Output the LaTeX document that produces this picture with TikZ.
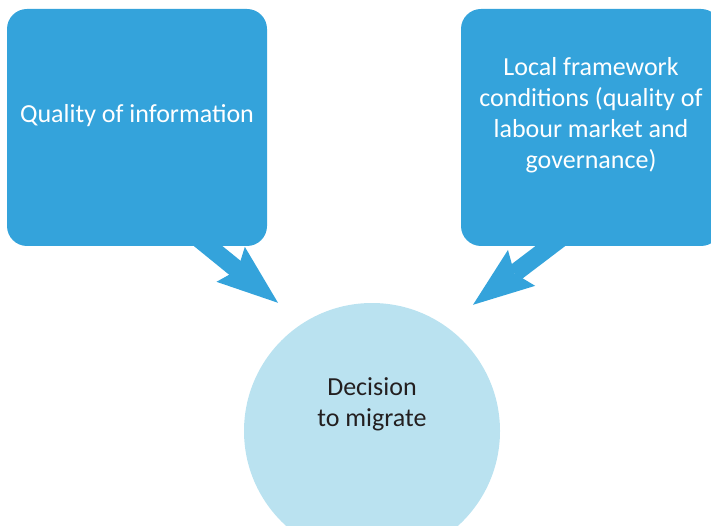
\documentclass[tikz,border=0pt]{standalone}
\usepackage{fontspec}
\setmainfont{Carlito}
\usetikzlibrary{arrows.meta}
\definecolor{boxblue}{HTML}{34A3DB}
\definecolor{circblue}{HTML}{BAE2F0}
\definecolor{darktext}{HTML}{231F20}
\tikzset{
	bubble/.style={rectangle,rounded corners=20pt,fill=boxblue,minimum width=260pt,minimum height=237pt,inner sep=0pt},
	bubbletext/.style={text=white,align=center,font=\fontsize{26}{31}\selectfont},
	flow/.style={line width=18pt,color=boxblue,-{Stealth[length=61pt,width=45pt,inset=9pt,line width=0pt]}}
}
\begin{document}
\begin{tikzpicture}[x=1pt,y=-1pt]
		\useasboundingbox (0,0) rectangle (711,526);
		
		\node [bubble] (info) at (137,127.5) {};
		\node [bubbletext] (infotext) at ([yshift=12pt]info.center) {Quality of information};
		
		\node [bubble] (local) at (591,127.5) {};
		\node [bubbletext] (localtext) at ([yshift=12pt]local.center) {Local framework\\conditions (quality of\\labour market and\\governance)};
		
		\node [circle,fill=circblue,minimum size=256pt,inner sep=0pt] (decision) at (372,431) {};
		\node [text=darktext,align=center,font=\fontsize{26}{31}\selectfont] (decisiontext) at ([yshift=27pt]decision.center) {Decision\\to migrate};
		
		\draw [flow] ([xshift=59pt,yshift=10pt]info.south) -- ([xshift=-94pt]decision.north);
		\draw [flow] ([xshift=-29pt,yshift=9pt]local.south) -- ([xshift=101pt,yshift=-2pt]decision.north);
	\end{tikzpicture}
\end{document}
